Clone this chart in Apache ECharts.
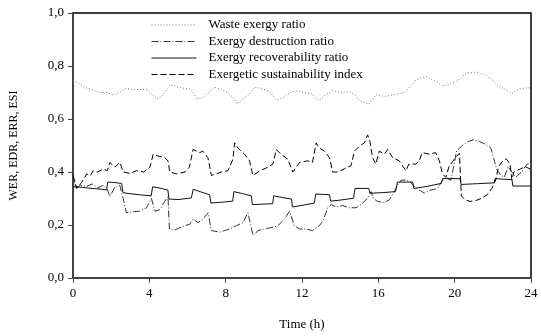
<!DOCTYPE html>
<html>
<head>
<meta charset="utf-8">
<script src="https://cdn.jsdelivr.net/npm/echarts@6/dist/echarts.min.js"></script>
<style>
  html, body { margin: 0; padding: 0; background: #fff; }
  #chart { width: 541px; height: 336px; }
</style>
</head>
<body>
<div id="chart"></div>
<script>
// [time (h), value]
const wasteExergyRatio = [
  [0, 0.745], [0.3, 0.735], [0.6, 0.72], [1.0, 0.71], [1.4, 0.70], [1.8, 0.70], [2.1, 0.69], [2.4, 0.70],
  [2.8, 0.715], [3.2, 0.71], [3.6, 0.712], [3.9, 0.71], [4.2, 0.69], [4.4, 0.675], [4.7, 0.69], [5.1, 0.73],
  [5.5, 0.72], [5.9, 0.715], [6.2, 0.712], [6.5, 0.675], [6.8, 0.68], [7.1, 0.70], [7.4, 0.72], [7.8, 0.71],
  [8.1, 0.70], [8.4, 0.68], [8.6, 0.657], [8.9, 0.675], [9.2, 0.69], [9.5, 0.72], [9.9, 0.715], [10.3, 0.703],
  [10.7, 0.67], [11.0, 0.68], [11.4, 0.70], [11.7, 0.707], [12.1, 0.70], [12.5, 0.695], [12.9, 0.67], [13.2, 0.69],
  [13.6, 0.708], [14.0, 0.70], [14.5, 0.703], [14.8, 0.69], [15.0, 0.67], [15.5, 0.655], [15.9, 0.693], [16.3, 0.685],
  [16.7, 0.69], [17.1, 0.696], [17.4, 0.70], [17.6, 0.718], [18.0, 0.749], [18.5, 0.761], [18.9, 0.745], [19.4, 0.725],
  [19.7, 0.73], [20.1, 0.742], [20.6, 0.773], [21.1, 0.777], [21.6, 0.767], [22.0, 0.745], [22.3, 0.725], [22.7, 0.71],
  [23.0, 0.696], [23.4, 0.715], [23.9, 0.718], [24, 0.715]
]

const exergyDestructionRatio = [
  [0, 0.385], [0.15, 0.34], [0.4, 0.35], [0.7, 0.345], [1.0, 0.355], [1.3, 0.34], [1.6, 0.35], [1.8, 0.335],
  [1.93, 0.307], [2.2, 0.344], [2.45, 0.35], [2.63, 0.30], [2.8, 0.246], [3.1, 0.25], [3.5, 0.252], [3.85, 0.265],
  [4.11, 0.30], [4.3, 0.252], [4.55, 0.258], [4.8, 0.289], [4.98, 0.307], [5.05, 0.185], [5.3, 0.18], [5.6, 0.19],
  [5.85, 0.197], [6.12, 0.203], [6.3, 0.222], [6.55, 0.209], [6.8, 0.222], [7.08, 0.246], [7.25, 0.179], [7.69, 0.173],
  [8.2, 0.185], [8.56, 0.197], [8.9, 0.209], [9.17, 0.246], [9.43, 0.16], [9.7, 0.179], [10.04, 0.185], [10.37, 0.19],
  [10.73, 0.197], [11.08, 0.222], [11.35, 0.252], [11.6, 0.197], [11.87, 0.185], [12.2, 0.185], [12.55, 0.179], [12.9, 0.197],
  [13.1, 0.215], [13.35, 0.265], [13.53, 0.277], [13.79, 0.268], [14.14, 0.273], [14.48, 0.265], [14.83, 0.265], [15.09, 0.277],
  [15.44, 0.301], [15.62, 0.326], [15.74, 0.30], [15.96, 0.289], [16.31, 0.285], [16.58, 0.295], [16.84, 0.326], [17.0, 0.35],
  [17.2, 0.369], [17.45, 0.37], [17.7, 0.36], [17.95, 0.34], [18.2, 0.33], [18.4, 0.32], [18.76, 0.332], [19.1, 0.338],
  [19.3, 0.362], [19.54, 0.38], [19.8, 0.369], [19.95, 0.42], [20.1, 0.48], [20.4, 0.50], [20.7, 0.515], [21.0, 0.522],
  [21.3, 0.515], [21.6, 0.505], [21.9, 0.49], [22.05, 0.45], [22.2, 0.41], [22.4, 0.39], [22.6, 0.38], [22.8, 0.42],
  [23.0, 0.40], [23.2, 0.38], [23.5, 0.40], [23.8, 0.43], [24, 0.43]
]

const exergyRecoverabilityRatio = [
  [0, 0.345], [0.5, 0.342], [1.0, 0.338], [1.5, 0.335], [1.76, 0.332], [1.82, 0.362], [2.2, 0.36], [2.55, 0.357],
  [2.62, 0.322], [3.0, 0.318], [3.5, 0.314], [4.1, 0.31], [4.17, 0.344], [4.5, 0.34], [4.97, 0.332], [5.03, 0.298],
  [5.5, 0.296], [6.2, 0.302], [6.3, 0.335], [6.7, 0.325], [7.16, 0.314], [7.22, 0.283], [7.8, 0.286], [8.37, 0.29],
  [8.43, 0.326], [8.9, 0.318], [9.34, 0.31], [9.4, 0.277], [10.0, 0.279], [10.46, 0.28], [10.52, 0.31], [11.0, 0.303],
  [11.45, 0.298], [11.5, 0.268], [12.0, 0.274], [12.65, 0.283], [12.72, 0.317], [13.44, 0.314], [13.5, 0.29], [14.0, 0.294],
  [14.7, 0.301], [14.78, 0.338], [15.5, 0.338], [15.56, 0.32], [16.2, 0.322], [16.9, 0.326], [17.0, 0.362], [17.8, 0.362],
  [17.86, 0.338], [18.5, 0.345], [19.3, 0.357], [19.36, 0.375], [20.28, 0.375], [20.34, 0.353], [21.2, 0.356], [22.07, 0.359],
  [22.12, 0.375], [23.0, 0.371], [23.05, 0.347], [24, 0.347]
]

const exergeticSustainabilityIndex = [
  [0, 0.387], [0.2, 0.338], [0.45, 0.36], [0.72, 0.393], [0.9, 0.385], [1.06, 0.405], [1.3, 0.40], [1.59, 0.412],
  [1.8, 0.405], [1.93, 0.436], [2.2, 0.418], [2.46, 0.436], [2.63, 0.40], [3.0, 0.395], [3.33, 0.405], [3.7, 0.40],
  [4.03, 0.418], [4.2, 0.467], [4.46, 0.46], [4.81, 0.454], [4.98, 0.442], [5.07, 0.40], [5.42, 0.393], [5.86, 0.40],
  [6.1, 0.418], [6.29, 0.485], [6.64, 0.473], [6.8, 0.479], [7.07, 0.454], [7.25, 0.387], [7.51, 0.393], [7.77, 0.40],
  [8.12, 0.405], [8.38, 0.448], [8.47, 0.51], [8.64, 0.491], [8.99, 0.467], [9.25, 0.442], [9.43, 0.387], [9.8, 0.405],
  [10.21, 0.418], [10.47, 0.43], [10.65, 0.485], [10.9, 0.467], [11.26, 0.448], [11.52, 0.40], [11.87, 0.436], [12.3, 0.442],
  [12.55, 0.436], [12.74, 0.51], [12.9, 0.491], [13.18, 0.479], [13.44, 0.454], [13.61, 0.40], [13.87, 0.40], [14.22, 0.412],
  [14.57, 0.424], [14.75, 0.479], [15.0, 0.497], [15.27, 0.51], [15.44, 0.54], [15.56, 0.515], [15.7, 0.454], [15.87, 0.43],
  [16.05, 0.479], [16.31, 0.467], [16.49, 0.485], [16.75, 0.454], [17.1, 0.442], [17.3, 0.42], [17.45, 0.405], [17.6, 0.43],
  [17.7, 0.436], [17.97, 0.43], [18.14, 0.442], [18.3, 0.473], [18.67, 0.467], [19.0, 0.473], [19.2, 0.442], [19.36, 0.393],
  [19.54, 0.38], [19.7, 0.42], [19.9, 0.44], [20.1, 0.46], [20.25, 0.47], [20.35, 0.31], [20.55, 0.295], [20.8, 0.289],
  [21.1, 0.292], [21.4, 0.30], [21.7, 0.314], [21.95, 0.338], [22.15, 0.37], [22.3, 0.42], [22.5, 0.44], [22.7, 0.45],
  [22.9, 0.43], [23.0, 0.37], [23.1, 0.40], [23.4, 0.41], [23.7, 0.42], [24, 0.41]
]

const seriesNames = [
  'Waste exergy ratio',
  'Exergy destruction ratio',
  'Exergy recoverability ratio',
  'Exergetic sustainability index'
]

const font = '"Liberation Serif", "DejaVu Serif", serif'

const chart = echarts.init(document.getElementById('chart'))

function lineSeries(name, data, lineStyle) {
  return {
    name,
    type: 'line',
    data,
    symbol: 'none',
    lineStyle,
    itemStyle: { color: lineStyle.color },
    z: 3
  }
}

chart.setOption({
  animation: false,
  grid: {
    left: 73,
    right: 10,
    top: 13,
    bottom: 51,
    show: true,
    borderColor: '#000',
    borderWidth: 1.5
  },
  legend: {
    orient: 'vertical',
    left: 146,
    top: 13,
    itemWidth: 45,
    itemHeight: 10,
    itemGap: 2.5,
    data: seriesNames,
    itemStyle: { opacity: 0 },
    lineStyle: { width: 1 },
    textStyle: {
      fontFamily: font,
      fontSize: 13,
      lineHeight: 14,
      color: '#000',
      padding: [0, 0, 0, 7]
    }
  },
  xAxis: {
    type: 'value',
    min: 0,
    max: 24,
    interval: 4,
    name: 'Time (h)',
    nameLocation: 'middle',
    nameGap: 40,
    nameTextStyle: { fontFamily: font, fontSize: 13, color: '#000' },
    axisLine: { lineStyle: { color: '#444', width: 1.5 } },
    axisTick: { length: 5, lineStyle: { color: '#444' } },
    axisLabel: { fontFamily: font, fontSize: 13, color: '#000', margin: 9 },
    splitLine: { show: false }
  },
  yAxis: {
    type: 'value',
    min: 0,
    max: 1,
    interval: 0.2,
    name: 'WER, EDR, ERR, ESI',
    nameLocation: 'middle',
    nameGap: 53,
    nameTextStyle: { fontFamily: font, fontSize: 12, color: '#000' },
    axisLine: { show: true, lineStyle: { color: '#444', width: 1.5 } },
    axisTick: { show: true, length: 5, lineStyle: { color: '#444' } },
    axisLabel: {
      fontFamily: font,
      fontSize: 13,
      color: '#000',
      margin: 9,
      formatter: (v) => v.toFixed(1).replace('.', ',')
    },
    splitLine: { show: false }
  },
  series: [
    lineSeries(seriesNames[0], wasteExergyRatio, { color: '#777', width: 1, type: [1, 2] }),
    lineSeries(seriesNames[1], exergyDestructionRatio, { color: '#333', width: 1, type: [7, 2, 1, 2] }),
    lineSeries(seriesNames[2], exergyRecoverabilityRatio, { color: '#111', width: 1, type: 'solid' }),
    lineSeries(seriesNames[3], exergeticSustainabilityIndex, { color: '#000', width: 1, type: [6, 3] })
  ]
})
</script>
</body>
</html>
